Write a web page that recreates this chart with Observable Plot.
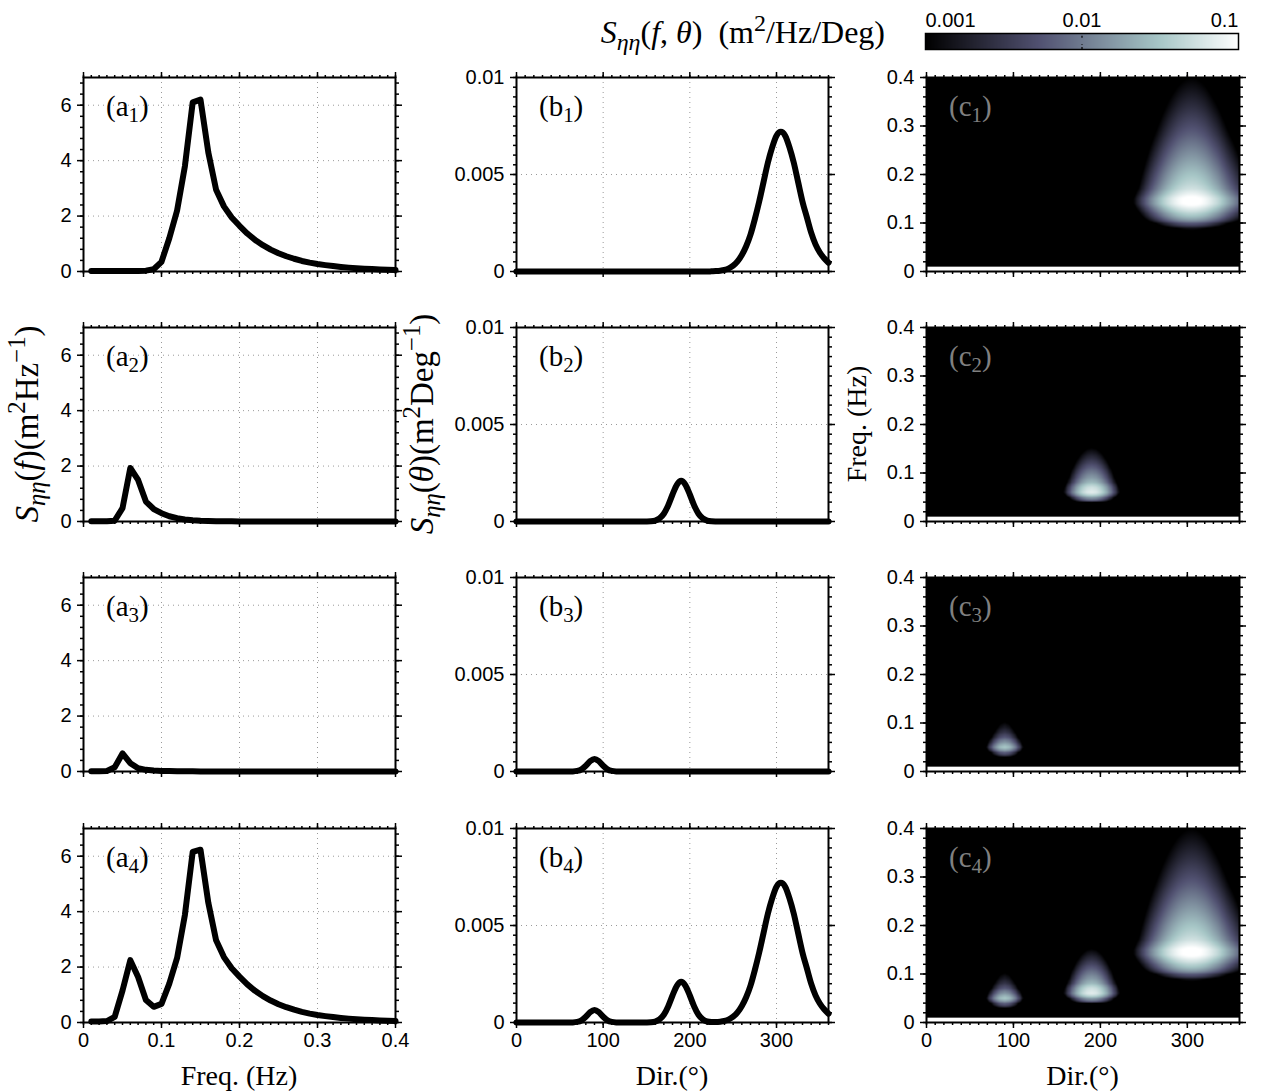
<!DOCTYPE html>
<html><head><meta charset="utf-8">
<script src="https://cdn.jsdelivr.net/npm/d3@7"></script>
<script src="https://cdn.jsdelivr.net/npm/@observablehq/plot@0.6"></script>
<style>
body{margin:0;background:#fff;}
#fig{position:relative;width:1261px;height:1092px;overflow:hidden;background:#fff;}
#fig > div{position:absolute;}
</style></head><body><div id="fig"></div>
<script>
// ---------------- data ----------------
const freq = [0.01,0.02,0.03,0.04,0.05,0.06,0.07,0.08,0.09,0.10,
              0.11,0.12,0.13,0.14,0.15,0.16,0.17,0.18,0.19,0.20,
              0.21,0.22,0.23,0.24,0.25,0.26,0.27,0.28,0.29,0.30,
              0.31,0.32,0.33,0.34,0.35,0.36,0.37,0.38,0.39,0.40];
// frequency spectra S(f) (m^2/Hz)
const S_f1 = [0.02,0.02,0.02,0.02,0.02,0.02,0.02,0.03,0.08,0.35,
              1.20,2.20,3.80,6.10,6.20,4.30,2.95,2.35,1.95,1.65,
              1.37,1.14,0.95,0.79,0.66,0.55,0.46,0.38,0.32,0.27,
              0.23,0.195,0.165,0.14,0.12,0.102,0.087,0.074,0.063,0.054];
const S_f2 = [0.01,0.01,0.01,0.03,0.48,1.93,1.50,0.72,0.45,0.30,
              0.19,0.12,0.075,0.048,0.030,0.020,0.013,0.009,0.006,0.004,
              0.003,0.002,0.0015,0.001,0.0008,0.0006,0.0005,0.0004,0.0003,0.0003,
              0.0002,0.0002,0.0002,0.0001,0.0001,0.0001,0.0001,0.0001,0.0001,0.0001];
const S_f3 = [0.01,0.01,0.02,0.15,0.65,0.30,0.12,0.06,0.035,0.022,
              0.015,0.010,0.007,0.005,0.0035,0.0025,0.0018,0.0013,0.0010,0.0008,
              0.0006,0.0005,0.0004,0.0003,0.0003,0.0002,0.0002,0.0002,0.0001,0.0001,
              0.0001,0.0001,0.0001,0.0001,0.0001,0.0001,0.0001,0.0001,0.0001,0.0001];
const S_f4 = [0.04,0.04,0.05,0.20,1.15,2.25,1.64,0.81,0.565,0.672,
              1.405,2.33,3.882,6.153,6.234,4.323,2.965,2.360,1.957,1.655,
              1.374,1.143,0.952,0.791,0.661,0.551,0.461,0.381,0.320,0.270,
              0.230,0.195,0.165,0.140,0.120,0.102,0.087,0.074,0.063,0.054];

const dir = [0,5,10,15,20,25,30,35,40,45,
             50,55,60,65,70,75,80,85,90,95,
             100,105,110,115,120,125,130,135,140,145,
             150,155,160,165,170,175,180,185,190,195,
             200,205,210,215,220,225,230,235,240,245,
             250,255,260,265,270,275,280,285,290,295,
             300,305,310,315,320,325,330,335,340,345,
             350,355,360];
// directional spectra S(theta) (m^2/Deg)
const S_d1 = [0,0,0,0,0,0,0,0,0,0,
              0,0,0,0,0,0,0,0,0,0,
              0,0,0,0,0,0,0,0,0,0,
              0,0,0,0,0,0,0,0,0,0,
              0,0,0,0,0,0.00001,0.00002,0.00004,0.00008,0.00016,
              0.0003,0.00052,0.00085,0.0013,0.0019,0.0027,0.0036,0.0046,0.0056,0.0064,
              0.0070,0.0072,0.0070,0.0064,0.0056,0.0046,0.0036,0.0028,0.0020,0.0014,
              0.00098,0.00068,0.00045];
const S_d2 = [0,0,0,0,0,0,0,0,0,0,
              0,0,0,0,0,0,0,0,0,0,
              0,0,0,0,0,0,0,0,0,0,
              0.000003,0.000013,0.00005,0.00016,0.0004,0.00083,0.00139,0.00189,0.0021,0.00189,
              0.00139,0.00083,0.0004,0.00016,0.00005,0.000013,0.000003,0,0,0,
              0,0,0,0,0,0,0,0,0,0,
              0,0,0,0,0,0,0,0,0,0,
              0,0,0];
const S_d3 = [0,0,0,0,0,0,0,0,0,0,
              0,0,0.0000006,0.000005,0.000029,0.000112,0.000298,0.000535,0.00065,0.000535,
              0.000298,0.000112,0.000029,0.000005,0.0000006,0,0,0,0,0,
              0,0,0,0,0,0,0,0,0,0,
              0,0,0,0,0,0,0,0,0,0,
              0,0,0,0,0,0,0,0,0,0,
              0,0,0,0,0,0,0,0,0,0,
              0,0,0];
const S_d4 = [0,0,0,0,0,0,0,0,0,0,
              0,0,0.0000006,0.000005,0.000029,0.000112,0.000298,0.000535,0.00065,0.000535,
              0.000298,0.000112,0.000029,0.000005,0.0000006,0,0,0,0,0,
              0.000003,0.000013,0.00005,0.00016,0.0004,0.00083,0.00139,0.00189,0.0021,0.00189,
              0.00139,0.00083,0.0004,0.00016,0.00005,0.000023,0.000023,0.00004,0.00008,0.00016,
              0.0003,0.00052,0.00085,0.0013,0.0019,0.0027,0.0036,0.0046,0.0056,0.0064,
              0.0070,0.0072,0.0070,0.0064,0.0056,0.0046,0.0036,0.0028,0.0020,0.0014,
              0.00098,0.00068,0.00045];

// ticks and labels
const freqTicks = [0, 0.1, 0.2, 0.3, 0.4];
const freqTickLabels = ["0", "0.1", "0.2", "0.3", "0.4"];
const dirTicks = [0, 100, 200, 300];
const dirTickLabels = ["0", "100", "200", "300"];
const sfTicks = [0, 2, 4, 6];
const sdTicks = [0, 0.005, 0.01];
const sdTickLabels = ["0", "0.005", "0.01"];
const cFreqTicks = [0, 0.1, 0.2, 0.3, 0.4];
const cbarValues = [0.001, 0.01, 0.1];
const cbarLabels = ["0.001", "0.01", "0.1"];

// ---------------- layout / style ----------------
const fig = document.getElementById("fig");
const SANS = "'Liberation Sans', Arial, Helvetica, sans-serif";
const SERIF = "'Liberation Serif', 'Times New Roman', serif";
const TICK_FS = 20;
const baseStyle = {fontFamily: SANS, fontSize: TICK_FS + "px", color: "black", background: "transparent", overflow: "visible"};
const colX = [83, 516, 926], colW = [312, 312, 313];
const rowY = [77, 327, 577, 828], rowH = 194;
const mL = [83, 110, 80], mT = 14, mR = 18;

// matplotlib "bone" colormap
function bone(t) {
  t = Math.max(0, Math.min(1, t));
  const seg = pts => { for (let i = 1; i < pts.length; i++) if (t <= pts[i][0]) { const [x0, y0] = pts[i-1], [x1, y1] = pts[i]; return y0 + (y1 - y0) * (t - x0) / (x1 - x0); } return 1; };
  const r = seg([[0,0],[0.746032,0.652778],[1,1]]);
  const g = seg([[0,0],[0.365079,0.319444],[0.746032,0.777778],[1,1]]);
  const b = seg([[0,0],[0.365079,0.444444],[1,1]]);
  return `rgb(${Math.round(r*255)},${Math.round(g*255)},${Math.round(b*255)})`;
}

function lerp(xs, ys, x) {
  if (x <= xs[0]) return ys[0];
  if (x >= xs[xs.length-1]) return ys[ys.length-1];
  const i = d3.bisectRight(xs, x) - 1;
  const t = (x - xs[i]) / (xs[i+1] - xs[i]);
  return ys[i] * (1 - t) + ys[i+1] * t;
}
const SfAll = [S_f1, S_f2, S_f3, S_f4];
const SdAll = [S_d1, S_d2, S_d3, S_d4];
const dTheta = dir[1] - dir[0];
const norm = [S_d1, S_d2, S_d3].map(b => d3.sum(b) * dTheta);
// S(f,theta) = S(f) * D(theta), D = S(theta) / integral of S(theta)
function spec2d(k, f, th) {
  const comps = k < 3 ? [k] : [0, 1, 2];
  let s = 0;
  for (const j of comps) s += lerp(freq, SfAll[j], f) * lerp(dir, SdAll[j], th) / norm[j];
  return Math.max(s, 1e-7);
}

function mathText(svg, x, y, parts, {size = 27, rotate = 0, anchor = "middle", fill = "black", script = 0.72} = {}) {
  const t = d3.select(svg).append("text")
    .attr("transform", `translate(${x},${y})` + (rotate ? ` rotate(${rotate})` : ""))
    .attr("text-anchor", anchor).attr("font-family", SERIF).attr("font-size", size).attr("fill", fill);
  let shift = 0;
  for (const p of parts) {
    const target = p.sub ? 0.22 * size : p.sup ? -0.38 * size : 0;
    const s = t.append("tspan").text(p.t).attr("dy", target - shift);
    shift = target;
    if (p.i) s.attr("font-style", "italic");
    if (p.sub || p.sup) s.attr("font-size", size * script);
  }
  return t;
}

function frameAxes({xMajor, xMinor, yMajor, yMinor, xFmt, yFmt, showX}) {
  const none = () => "";
  const st = {stroke: "black", strokeWidth: 1.5, label: null, fontSize: TICK_FS, fontFamily: SANS};
  return [
    Plot.axisX(xMinor, {...st, anchor: "bottom", tickSize: 3, tickFormat: none}),
    Plot.axisX(xMinor, {...st, anchor: "top", tickSize: 3, tickFormat: none}),
    Plot.axisY(yMinor, {...st, anchor: "left", tickSize: 3, tickFormat: none}),
    Plot.axisY(yMinor, {...st, anchor: "right", tickSize: 3, tickFormat: none}),
    Plot.axisX(xMajor, {...st, anchor: "bottom", tickSize: 6, tickPadding: 4, tickFormat: showX ? xFmt : none}),
    Plot.axisX(xMajor, {...st, anchor: "top", tickSize: 6, tickFormat: none}),
    Plot.axisY(yMajor, {...st, anchor: "left", tickSize: 6, tickPadding: 6, tickFormat: yFmt}),
    Plot.axisY(yMajor, {...st, anchor: "right", tickSize: 6, tickFormat: none})
  ];
}
const gridStyle = {stroke: "#9a9a9a", strokeOpacity: 1, strokeWidth: 1, strokeDasharray: "1,4"};

function place(svg, left, top) {
  const div = document.createElement("div");
  div.style.left = left + "px"; div.style.top = top + "px";
  div.appendChild(svg); fig.appendChild(div);
}
const labelOpts = {anchor: "start", size: 29};
const ylabOpts = {rotate: -90, size: 33, script: 0.75};

for (let row = 0; row < 4; row++) {
  const mB = row === 3 ? 78 : 14;
  const showX = row === 3;
  // ---- column a: S(f)
  {
    const data = freq.map((f, i) => ({f, S: SfAll[row][i]}));
    const svg = Plot.plot({
      width: mL[0] + colW[0] + mR, height: mT + rowH + mB,
      marginLeft: mL[0], marginRight: mR, marginTop: mT, marginBottom: mB,
      x: {domain: [0, 0.4], label: null}, y: {domain: [0, 7], label: null},
      style: baseStyle,
      marks: [
        Plot.gridX(freqTicks.slice(1, -1), gridStyle),
        Plot.gridY(sfTicks.slice(1), gridStyle),
        Plot.line(data, {x: "f", y: "S", stroke: "black", strokeWidth: 6}),
        Plot.frame({stroke: "black", strokeWidth: 2}),
        ...frameAxes({xMajor: freqTicks, xMinor: d3.range(0, 0.4001, 0.01), yMajor: sfTicks, yMinor: d3.range(0, 7.001, 0.4),
          xFmt: d => freqTickLabels[freqTicks.indexOf(d)], yFmt: d => String(d), showX})
      ]
    });
    mathText(svg, mL[0] + 23, mT + 39, [{t: "(a"}, {t: String(row + 1), sub: 1}, {t: ")"}], labelOpts);
    if (row === 1) mathText(svg, 38, mT + rowH / 2, [{t: "S", i: 1}, {t: "ηη", i: 1, sub: 1}, {t: "("}, {t: "f", i: 1}, {t: ")(m"}, {t: "2", sup: 1}, {t: "Hz"}, {t: "−1", sup: 1}, {t: ")"}], ylabOpts);
    if (showX) mathText(svg, mL[0] + colW[0] / 2, 271, [{t: "Freq. (Hz)"}], {size: 28});
    place(svg, colX[0] - mL[0], rowY[row] - mT);
  }
  // ---- column b: S(theta)
  {
    const data = dir.map((d, i) => ({d, S: SdAll[row][i]}));
    const svg = Plot.plot({
      width: mL[1] + colW[1] + mR, height: mT + rowH + mB,
      marginLeft: mL[1], marginRight: mR, marginTop: mT, marginBottom: mB,
      x: {domain: [0, 360], label: null}, y: {domain: [0, 0.01], label: null},
      style: baseStyle,
      marks: [
        Plot.gridX(dirTicks.slice(1), gridStyle),
        Plot.gridY([0.005], gridStyle),
        Plot.line(data, {x: "d", y: "S", stroke: "black", strokeWidth: 6, curve: "monotone-x"}),
        Plot.frame({stroke: "black", strokeWidth: 2}),
        ...frameAxes({xMajor: dirTicks, xMinor: d3.range(0, 361, 10), yMajor: sdTicks, yMinor: d3.range(0, 0.01001, 0.0005),
          xFmt: d => dirTickLabels[dirTicks.indexOf(d)], yFmt: d => sdTickLabels[sdTicks.indexOf(d)], showX})
      ]
    });
    mathText(svg, mL[1] + 23, mT + 39, [{t: "(b"}, {t: String(row + 1), sub: 1}, {t: ")"}], labelOpts);
    if (row === 1) mathText(svg, 27, mT + rowH / 2, [{t: "S", i: 1}, {t: "ηη", i: 1, sub: 1}, {t: "("}, {t: "θ", i: 1}, {t: ")(m"}, {t: "2", sup: 1}, {t: "Deg"}, {t: "−1", sup: 1}, {t: ")"}], ylabOpts);
    if (showX) mathText(svg, mL[1] + colW[1] / 2, 271, [{t: "Dir.(°)"}], {size: 28});
    place(svg, colX[1] - mL[1], rowY[row] - mT);
  }
  // ---- column c: S(f, theta)
  {
    const k = row;
    const svg = Plot.plot({
      width: mL[2] + colW[2] + mR, height: mT + rowH + mB,
      marginLeft: mL[2], marginRight: mR, marginTop: mT, marginBottom: mB,
      x: {domain: [0, 360], label: null}, y: {domain: [0, 0.4], label: null},
      color: {type: "log", domain: [cbarValues[0], cbarValues[2]], clamp: true, interpolate: bone},
      style: baseStyle,
      marks: [
        Plot.raster({fill: (th, f) => spec2d(k, f, th), x1: 0, x2: 360, y1: 0.01, y2: 0.4}),
        Plot.frame({stroke: "black", strokeWidth: 2}),
        ...frameAxes({xMajor: dirTicks, xMinor: d3.range(0, 361, 10), yMajor: cFreqTicks, yMinor: d3.range(0, 0.4001, 0.02),
          xFmt: d => dirTickLabels[dirTicks.indexOf(d)], yFmt: d => freqTickLabels[freqTicks.indexOf(d)], showX})
      ]
    });
    mathText(svg, mL[2] + 23, mT + 39, [{t: "(c"}, {t: String(row + 1), sub: 1}, {t: ")"}], {...labelOpts, fill: "#808080"});
    if (row === 1) mathText(svg, 20, mT + rowH / 2, [{t: "Freq. (Hz)"}], {rotate: -90, size: 28});
    if (showX) mathText(svg, mL[2] + colW[2] / 2, 271, [{t: "Dir.(°)"}], {size: 28});
    place(svg, colX[2] - mL[2], rowY[row] - mT);
  }
}

// ---------------- colorbar ----------------
{
  const cbExp = cbarValues.map(v => Math.log10(v));
  const ax = {anchor: "top", tickSize: 0, tickPadding: 7, label: null, fontSize: TICK_FS};
  const svg = Plot.plot({
    width: 681, height: 54, marginLeft: 345, marginRight: 23, marginTop: 33, marginBottom: 5,
    x: {domain: [cbExp[0], cbExp[2]], label: null}, y: {domain: [0, 1], axis: null, label: null},
    color: {type: "linear", domain: [cbExp[0], cbExp[2]], interpolate: bone},
    style: baseStyle,
    marks: [
      Plot.raster({fill: (x, y) => x, x1: cbExp[0], x2: cbExp[2], y1: 0, y2: 1}),
      Plot.ruleX([cbExp[1]], {y1: 0, y2: 0.3, stroke: "black", strokeWidth: 1.2, strokeDasharray: "2,2"}),
      Plot.ruleX([cbExp[1]], {y1: 0.7, y2: 1, stroke: "black", strokeWidth: 1.2, strokeDasharray: "2,2"}),
      Plot.frame({stroke: "black", strokeWidth: 1.5}),
      Plot.axisX([cbExp[0]], {...ax, textAnchor: "start", tickFormat: () => cbarLabels[0]}),
      Plot.axisX([cbExp[1]], {...ax, tickFormat: () => cbarLabels[1]}),
      Plot.axisX([cbExp[2]], {...ax, textAnchor: "end", tickFormat: () => cbarLabels[2]})
    ]
  });
  mathText(svg, 305, 43, [{t: "S", i: 1}, {t: "ηη", i: 1, sub: 1}, {t: "("}, {t: "f", i: 1}, {t: ", "}, {t: "θ", i: 1}, {t: ")  (m"}, {t: "2", sup: 1}, {t: "/Hz/Deg)"}], {anchor: "end", size: 32, script: 0.75});
  place(svg, 580, 0);
}
</script></body></html>
